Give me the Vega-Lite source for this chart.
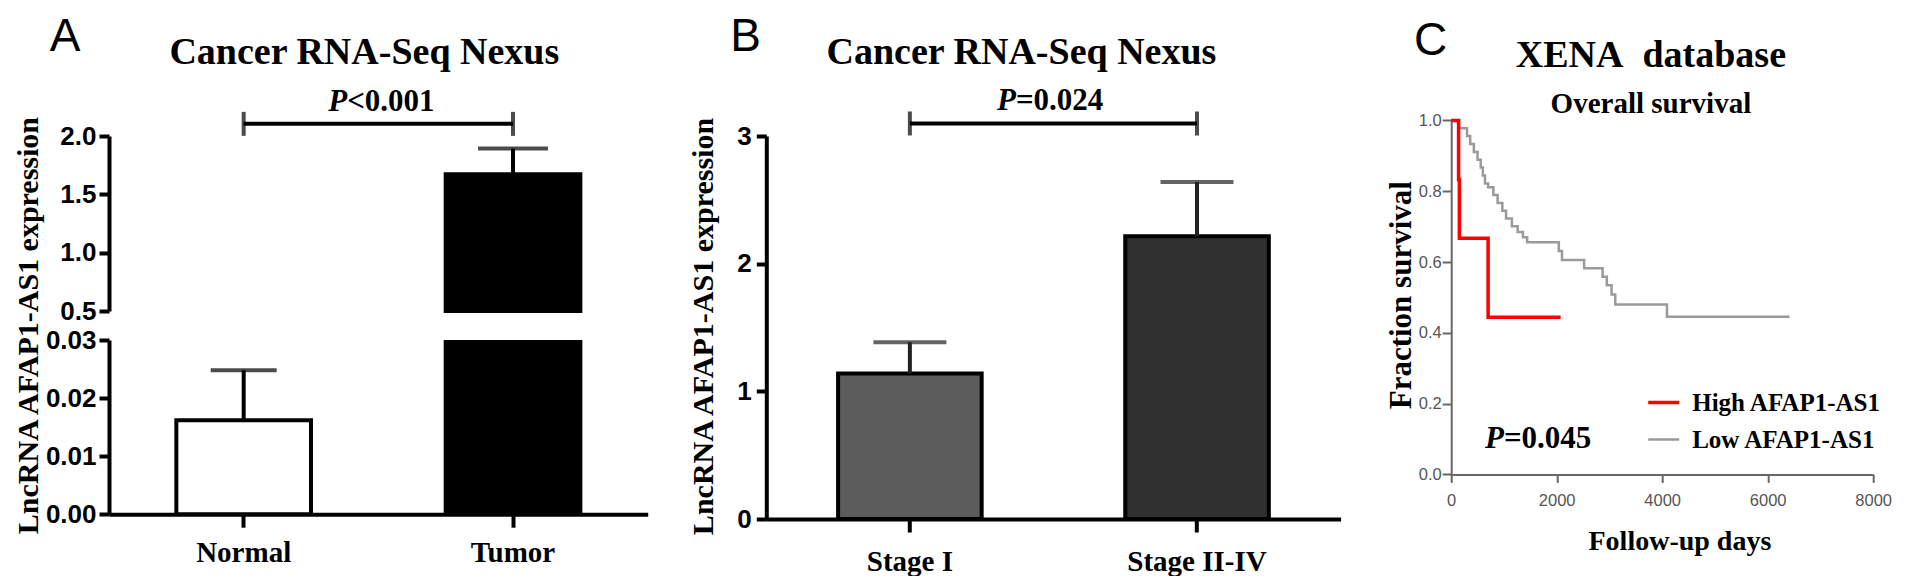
{
  "$schema": "https://vega.github.io/schema/vega-lite/v6.json",
  "background": "white",
  "padding": {"left": 13, "top": 14, "right": 0, "bottom": 0},
  "config": {"view": {"stroke": null}, "axis": {"grid": false}},
  "datasets": {
    "a": [
      {"cat": "Normal", "value": 0.0162, "upper": 0.0248},
      {"cat": "Tumor", "value": 1.672, "upper": 1.892}
    ],
    "b": [
      {"cat": "Stage I", "value": 1.14, "upper": 1.385},
      {"cat": "Stage II-IV", "value": 2.215, "upper": 2.64}
    ],
    "km": [
      {"group": "Low AFAP1-AS1", "day": 0, "surv": 1.0},
      {"group": "Low AFAP1-AS1", "day": 150, "surv": 0.978},
      {"group": "Low AFAP1-AS1", "day": 300, "surv": 0.956},
      {"group": "Low AFAP1-AS1", "day": 360, "surv": 0.933},
      {"group": "Low AFAP1-AS1", "day": 430, "surv": 0.911},
      {"group": "Low AFAP1-AS1", "day": 500, "surv": 0.889},
      {"group": "Low AFAP1-AS1", "day": 560, "surv": 0.867},
      {"group": "Low AFAP1-AS1", "day": 600, "surv": 0.844},
      {"group": "Low AFAP1-AS1", "day": 640, "surv": 0.822},
      {"group": "Low AFAP1-AS1", "day": 700, "surv": 0.811},
      {"group": "Low AFAP1-AS1", "day": 800, "surv": 0.789},
      {"group": "Low AFAP1-AS1", "day": 880, "surv": 0.767},
      {"group": "Low AFAP1-AS1", "day": 970, "surv": 0.745},
      {"group": "Low AFAP1-AS1", "day": 1040, "surv": 0.723},
      {"group": "Low AFAP1-AS1", "day": 1150, "surv": 0.701},
      {"group": "Low AFAP1-AS1", "day": 1260, "surv": 0.685},
      {"group": "Low AFAP1-AS1", "day": 1360, "surv": 0.670},
      {"group": "Low AFAP1-AS1", "day": 1440, "surv": 0.656},
      {"group": "Low AFAP1-AS1", "day": 2040, "surv": 0.631},
      {"group": "Low AFAP1-AS1", "day": 2100, "surv": 0.606},
      {"group": "Low AFAP1-AS1", "day": 2520, "surv": 0.582},
      {"group": "Low AFAP1-AS1", "day": 2870, "surv": 0.558},
      {"group": "Low AFAP1-AS1", "day": 2950, "surv": 0.534},
      {"group": "Low AFAP1-AS1", "day": 3040, "surv": 0.508},
      {"group": "Low AFAP1-AS1", "day": 3110, "surv": 0.480},
      {"group": "Low AFAP1-AS1", "day": 4090, "surv": 0.445},
      {"group": "Low AFAP1-AS1", "day": 6414, "surv": 0.445},
      {"group": "High AFAP1-AS1", "day": 0, "surv": 1.0},
      {"group": "High AFAP1-AS1", "day": 140, "surv": 0.833},
      {"group": "High AFAP1-AS1", "day": 155, "surv": 0.667},
      {"group": "High AFAP1-AS1", "day": 700, "surv": 0.444},
      {"group": "High AFAP1-AS1", "day": 2074, "surv": 0.444}
    ]
  },
  "spacing": 40.3,
  "resolve": {"scale": {"fill": "independent", "color": "independent", "strokeWidth": "independent"}, "legend": {"fill": "independent", "color": "independent", "strokeWidth": "independent"}},
  "hconcat": [
    {
      "title": {"text": "A", "anchor": "start", "frame": "group", "dx": -59.3, "offset": -27, "font": "Liberation Sans", "fontSize": 46, "fontWeight": "normal", "color": "black"},
      "bounds": "flush",
      "spacing": 29,
      "vconcat": [
        {
          "width": 538.7,
          "height": 175,
          "title": {"text": "Cancer RNA-Seq Nexus", "anchor": "middle", "frame": "group", "dx": -14, "offset": 13.5, "font": "Liberation Serif", "fontSize": 38, "fontWeight": "bold", "color": "black"},
          "layer": [
            {
              "data": {"name": "a"},
              "transform": [{"filter": "datum.value > 0.5"}],
              "mark": {"type": "bar", "fill": "black", "stroke": "black", "strokeWidth": 4},
              "encoding": {
                "x": {"field": "cat", "type": "nominal", "scale": {"domain": ["Normal", "Tumor"], "paddingInner": 0.5, "paddingOuter": 0.25}, "axis": null},
                "y": {"field": "value", "type": "quantitative", "scale": {"domain": [0.5, 2], "nice": false, "zero": false},
                  "axis": {"values": [0.5, 1, 1.5, 2], "format": ".1f", "domainColor": "black", "domainWidth": 4, "tickColor": "black", "tickWidth": 4, "tickSize": 10, "labelFont": "Liberation Sans", "labelFontSize": 26, "labelFontWeight": "bold", "labelColor": "black", "labelPadding": 3, "labelFlush": false, "labelOverlap": false, "grid": false, "title": null}},
                "y2": {"datum": 0.5}
              }
            },
            {
              "data": {"name": "a"},
              "transform": [{"filter": "datum.value > 0.5"}],
              "mark": {"type": "rule", "strokeWidth": 4, "color": "black"},
              "encoding": {
                "x": {"field": "cat", "type": "nominal", "scale": {"domain": ["Normal", "Tumor"], "paddingInner": 0.5, "paddingOuter": 0.25}, "axis": null},
                "y": {"field": "value", "type": "quantitative", "scale": {"domain": [0.5, 2], "nice": false, "zero": false}},
                "y2": {"field": "upper"}
              }
            },
            {
              "data": {"name": "a"},
              "transform": [{"filter": "datum.value > 0.5"}],
              "mark": {"type": "tick", "thickness": 4, "size": 70, "color": "black"},
              "encoding": {
                "x": {"field": "cat", "type": "nominal", "scale": {"domain": ["Normal", "Tumor"], "paddingInner": 0.5, "paddingOuter": 0.25}, "axis": null},
                "y": {"field": "upper", "type": "quantitative", "scale": {"domain": [0.5, 2], "nice": false, "zero": false}}
              }
            },
            {
              "data": {"values": [{"from": "Normal", "to": "Tumor", "y": 2.104}]},
              "mark": {"type": "rule", "strokeWidth": 4, "color": "black"},
              "encoding": {
                "x": {"field": "from", "type": "nominal", "scale": {"domain": ["Normal", "Tumor"], "paddingInner": 0.5, "paddingOuter": 0.25}, "axis": null},
                "x2": {"field": "to"},
                "y": {"field": "y", "type": "quantitative", "scale": {"domain": [0.5, 2], "nice": false, "zero": false}}
              }
            },
            {
              "data": {"values": [{"cat": "Normal", "y": 2.104}, {"cat": "Tumor", "y": 2.104}]},
              "mark": {"type": "tick", "orient": "vertical", "size": 24, "thickness": 4, "color": "black"},
              "encoding": {
                "x": {"field": "cat", "type": "nominal", "scale": {"domain": ["Normal", "Tumor"], "paddingInner": 0.5, "paddingOuter": 0.25}, "axis": null},
                "y": {"field": "y", "type": "quantitative", "scale": {"domain": [0.5, 2], "nice": false, "zero": false}}
              }
            },
            {
              "data": {"values": [{"cat": "Normal", "y": 2.217, "t": "P"}]},
              "mark": {"type": "text", "font": "Liberation Serif", "fontSize": 31, "fontWeight": "bold", "fontStyle": "italic", "align": "right", "baseline": "alphabetic", "dx": 103.5, "color": "black"},
              "encoding": {
                "x": {"field": "cat", "type": "nominal", "scale": {"domain": ["Normal", "Tumor"], "paddingInner": 0.5, "paddingOuter": 0.25}, "axis": null},
                "y": {"field": "y", "type": "quantitative", "scale": {"domain": [0.5, 2], "nice": false, "zero": false}},
                "text": {"field": "t"}
              }
            },
            {
              "data": {"values": [{"cat": "Normal", "y": 2.217, "t": "<0.001"}]},
              "mark": {"type": "text", "font": "Liberation Serif", "fontSize": 31, "fontWeight": "bold", "align": "left", "baseline": "alphabetic", "dx": 103.5, "color": "black"},
              "encoding": {
                "x": {"field": "cat", "type": "nominal", "scale": {"domain": ["Normal", "Tumor"], "paddingInner": 0.5, "paddingOuter": 0.25}, "axis": null},
                "y": {"field": "y", "type": "quantitative", "scale": {"domain": [0.5, 2], "nice": false, "zero": false}},
                "text": {"field": "t"}
              }
            }
          ]
        },
        {
          "width": 538.7,
          "height": 174.2,
          "layer": [
            {
              "data": {"name": "a"},
              "mark": {"type": "bar", "stroke": "black", "strokeWidth": 4, "clip": true},
              "encoding": {
                "x": {"field": "cat", "type": "nominal", "scale": {"domain": ["Normal", "Tumor"], "paddingInner": 0.5, "paddingOuter": 0.25},
                  "axis": {"domainColor": "black", "domainWidth": 4, "tickColor": "black", "tickWidth": 4, "tickSize": 13, "labelFont": "Liberation Serif", "labelFontSize": 29, "labelFontWeight": "bold", "labelColor": "black", "labelAngle": 0, "labelBaseline": "alphabetic", "labelPadding": 34, "title": null}},
                "y": {"field": "value", "type": "quantitative", "scale": {"domain": [0, 0.03], "nice": false},
                  "axis": {"values": [0, 0.01, 0.02, 0.03], "format": ".2f", "domainColor": "black", "domainWidth": 4, "tickColor": "black", "tickWidth": 4, "tickSize": 10, "labelFont": "Liberation Sans", "labelFontSize": 26, "labelFontWeight": "bold", "labelColor": "black", "labelPadding": 3, "labelFlush": false, "labelOverlap": false, "grid": false,
                    "title": "LncRNA AFAP1-AS1 expression", "titleFont": "Liberation Serif", "titleFontSize": 30, "titleFontWeight": "bold", "titleColor": "black", "titleX": -71.6, "titleY": -14.9, "titleBaseline": "alphabetic", "titleAngle": 270, "titleAlign": "center"}},
                "fill": {"field": "cat", "type": "nominal", "scale": {"domain": ["Normal", "Tumor"], "range": ["#ffffff", "#000000"]}, "legend": null}
              }
            },
            {
              "data": {"name": "a"},
              "transform": [{"filter": "datum.upper < 0.03"}],
              "mark": {"type": "rule", "strokeWidth": 4, "color": "black"},
              "encoding": {
                "x": {"field": "cat", "type": "nominal", "scale": {"domain": ["Normal", "Tumor"], "paddingInner": 0.5, "paddingOuter": 0.25}},
                "y": {"field": "value", "type": "quantitative", "scale": {"domain": [0, 0.03], "nice": false}},
                "y2": {"field": "upper"}
              }
            },
            {
              "data": {"name": "a"},
              "transform": [{"filter": "datum.upper < 0.03"}],
              "mark": {"type": "tick", "thickness": 4, "size": 66, "color": "black"},
              "encoding": {
                "x": {"field": "cat", "type": "nominal", "scale": {"domain": ["Normal", "Tumor"], "paddingInner": 0.5, "paddingOuter": 0.25}},
                "y": {"field": "upper", "type": "quantitative", "scale": {"domain": [0, 0.03], "nice": false}}
              }
            }
          ]
        }
      ]
    },
    {
      "spacing": 43.9,
      "resolve": {"scale": {"fill": "independent", "color": "independent", "strokeWidth": "independent"}, "legend": {"fill": "independent", "color": "independent", "strokeWidth": "independent"}},
      "hconcat": [
        {
          "title": {"text": "B", "anchor": "start", "frame": "group", "dx": -36.1, "offset": -27, "font": "Liberation Sans", "fontSize": 46, "fontWeight": "normal", "color": "black"},
          "vconcat": [
            {
              "width": 574.3,
              "height": 383,
              "title": {"text": "Cancer RNA-Seq Nexus", "anchor": "middle", "frame": "group", "dx": -32, "offset": 13, "font": "Liberation Serif", "fontSize": 38, "fontWeight": "bold", "color": "black"},
              "layer": [
                {
                  "data": {"name": "b"},
                  "mark": {"type": "bar", "stroke": "black", "strokeWidth": 4},
                  "encoding": {
                    "x": {"field": "cat", "type": "nominal", "scale": {"domain": ["Stage I", "Stage II-IV"], "paddingInner": 0.5, "paddingOuter": 0.25},
                      "axis": {"domainColor": "black", "domainWidth": 4, "tickColor": "black", "tickWidth": 4, "tickSize": 13, "labelFont": "Liberation Serif", "labelFontSize": 29, "labelFontWeight": "bold", "labelColor": "black", "labelAngle": 0, "labelBaseline": "alphabetic", "labelPadding": 38, "title": null}},
                    "y": {"field": "value", "type": "quantitative", "scale": {"domain": [0, 3], "nice": false},
                      "axis": {"values": [0, 1, 2, 3], "format": "d", "domainColor": "black", "domainWidth": 4, "tickColor": "black", "tickWidth": 4, "tickSize": 10, "labelFont": "Liberation Sans", "labelFontSize": 26, "labelFontWeight": "bold", "labelColor": "black", "labelPadding": 5, "labelFlush": false, "labelOverlap": false, "grid": false,
                        "title": "LncRNA AFAP1-AS1 expression", "titleFont": "Liberation Serif", "titleFontSize": 30, "titleFontWeight": "bold", "titleColor": "black", "titleX": -53.4, "titleY": 190, "titleBaseline": "alphabetic", "titleAngle": 270, "titleAlign": "center"}},
                    "fill": {"field": "cat", "type": "nominal", "scale": {"domain": ["Stage I", "Stage II-IV"], "range": ["#5c5c5c", "#303030"]}, "legend": null}
                  }
                },
                {
                  "data": {"name": "b"},
                  "mark": {"type": "rule", "strokeWidth": 4, "color": "#222222"},
                  "encoding": {
                    "x": {"field": "cat", "type": "nominal", "scale": {"domain": ["Stage I", "Stage II-IV"], "paddingInner": 0.5, "paddingOuter": 0.25}},
                    "y": {"field": "value", "type": "quantitative", "scale": {"domain": [0, 3], "nice": false}},
                    "y2": {"field": "upper"}
                  }
                },
                {
                  "data": {"name": "b"},
                  "mark": {"type": "tick", "thickness": 4, "size": 73, "color": "#222222"},
                  "encoding": {
                    "x": {"field": "cat", "type": "nominal", "scale": {"domain": ["Stage I", "Stage II-IV"], "paddingInner": 0.5, "paddingOuter": 0.25}},
                    "y": {"field": "upper", "type": "quantitative", "scale": {"domain": [0, 3], "nice": false}}
                  }
                },
                {
                  "data": {"values": [{"from": "Stage I", "to": "Stage II-IV", "y": 3.098}]},
                  "mark": {"type": "rule", "strokeWidth": 4, "color": "black"},
                  "encoding": {
                    "x": {"field": "from", "type": "nominal", "scale": {"domain": ["Stage I", "Stage II-IV"], "paddingInner": 0.5, "paddingOuter": 0.25}},
                    "x2": {"field": "to"},
                    "y": {"field": "y", "type": "quantitative", "scale": {"domain": [0, 3], "nice": false}}
                  }
                },
                {
                  "data": {"values": [{"cat": "Stage I", "y": 3.098}, {"cat": "Stage II-IV", "y": 3.098}]},
                  "mark": {"type": "tick", "orient": "vertical", "size": 24, "thickness": 4, "color": "black"},
                  "encoding": {
                    "x": {"field": "cat", "type": "nominal", "scale": {"domain": ["Stage I", "Stage II-IV"], "paddingInner": 0.5, "paddingOuter": 0.25}},
                    "y": {"field": "y", "type": "quantitative", "scale": {"domain": [0, 3], "nice": false}}
                  }
                },
                {
                  "data": {"values": [{"cat": "Stage I", "y": 3.2, "t": "P"}]},
                  "mark": {"type": "text", "font": "Liberation Serif", "fontSize": 31, "fontWeight": "bold", "fontStyle": "italic", "align": "right", "baseline": "alphabetic", "dx": 106, "color": "black"},
                  "encoding": {
                    "x": {"field": "cat", "type": "nominal", "scale": {"domain": ["Stage I", "Stage II-IV"], "paddingInner": 0.5, "paddingOuter": 0.25}},
                    "y": {"field": "y", "type": "quantitative", "scale": {"domain": [0, 3], "nice": false}},
                    "text": {"field": "t"}
                  }
                },
                {
                  "data": {"values": [{"cat": "Stage I", "y": 3.2, "t": "=0.024"}]},
                  "mark": {"type": "text", "font": "Liberation Serif", "fontSize": 31, "fontWeight": "bold", "align": "left", "baseline": "alphabetic", "dx": 106, "color": "black"},
                  "encoding": {
                    "x": {"field": "cat", "type": "nominal", "scale": {"domain": ["Stage I", "Stage II-IV"], "paddingInner": 0.5, "paddingOuter": 0.25}},
                    "y": {"field": "y", "type": "quantitative", "scale": {"domain": [0, 3], "nice": false}},
                    "text": {"field": "t"}
                  }
                }
              ]
            }
          ]
        },
        {
          "title": {"text": "C", "anchor": "start", "frame": "group", "dx": -37.3, "offset": -27.4, "font": "Liberation Sans", "fontSize": 46, "fontWeight": "normal", "color": "black"},
          "resolve": {"scale": {"color": "independent", "strokeWidth": "independent"}, "legend": {"color": "independent", "strokeWidth": "independent"}},
          "vconcat": [
            {
              "width": 422,
              "height": 338.4,
              "title": {"text": "XENA\u00a0 database", "subtitle": "Overall survival", "anchor": "middle", "frame": "group", "dx": -11.3, "offset": -6.9, "subtitlePadding": 15, "font": "Liberation Serif", "fontSize": 38, "fontWeight": "bold", "color": "black", "subtitleFont": "Liberation Serif", "subtitleFontSize": 29, "subtitleFontWeight": "bold", "subtitleColor": "black"},
              "layer": [
                {
                  "data": {"name": "km"},
                  "mark": {"type": "line", "interpolate": "step-after"},
                  "encoding": {
                    "x": {"field": "day", "type": "quantitative", "scale": {"domain": [0, 8000], "nice": false},
                      "axis": {"values": [0, 2000, 4000, 6000, 8000], "format": "d", "domainColor": "#666666", "domainWidth": 2, "tickColor": "#666666", "tickWidth": 2, "tickSize": 8, "labelFont": "Liberation Sans", "labelFontSize": 16.5, "labelColor": "#555555", "labelBaseline": "alphabetic", "labelPadding": 23, "labelFlush": false, "labelOverlap": false, "grid": false,
                        "title": "Follow-up days", "titleFont": "Liberation Serif", "titleFontSize": 28, "titleFontWeight": "bold", "titleColor": "black", "titleX": 228.2, "titleY": 75, "titleBaseline": "alphabetic", "titleAlign": "center"}},
                    "y": {"field": "surv", "type": "quantitative", "scale": {"domain": [0, 1], "range": [338.4, -15.6], "nice": false},
                      "axis": {"values": [0, 0.2, 0.4, 0.6, 0.8, 1], "format": ".1f", "domainColor": "#666666", "domainWidth": 2, "tickColor": "#666666", "tickWidth": 2, "tickSize": 9, "labelFont": "Liberation Sans", "labelFontSize": 16.5, "labelColor": "#555555", "labelPadding": 1, "labelFlush": false, "labelOverlap": false, "grid": false,
                        "title": "Fraction survival", "titleFont": "Liberation Serif", "titleFontSize": 31, "titleFontWeight": "bold", "titleColor": "black", "titleX": -40.6, "titleY": 158.7, "titleBaseline": "alphabetic", "titleAngle": 270, "titleAlign": "center"}},
                    "color": {"field": "group", "type": "nominal", "scale": {"domain": ["High AFAP1-AS1", "Low AFAP1-AS1"], "range": ["#ff0000", "#9a9a9a"]},
                      "legend": {"orient": "none", "legendX": 195, "legendY": 249, "title": null, "symbolType": "stroke", "symbolSize": 961, "symbolStrokeWidth": 3, "labelFont": "Liberation Serif", "labelFontSize": 25, "labelFontWeight": "bold", "labelColor": "black", "labelOffset": 11, "labelLimit": 400, "rowPadding": 6.5, "padding": 0}},
                    "strokeWidth": {"field": "group", "type": "nominal", "scale": {"domain": ["High AFAP1-AS1", "Low AFAP1-AS1"], "range": [3.5, 2.5]}, "legend": null}
                  }
                },
                {
                  "data": {"values": [{"day": 1000, "surv": 0.0754, "t": "P"}]},
                  "mark": {"type": "text", "font": "Liberation Serif", "fontSize": 31, "fontWeight": "bold", "fontStyle": "italic", "align": "right", "baseline": "alphabetic", "color": "black"},
                  "encoding": {
                    "x": {"field": "day", "type": "quantitative", "scale": {"domain": [0, 8000], "nice": false}},
                    "y": {"field": "surv", "type": "quantitative", "scale": {"domain": [0, 1], "range": [338.4, -15.6], "nice": false}},
                    "text": {"field": "t"}
                  }
                },
                {
                  "data": {"values": [{"day": 1000, "surv": 0.0754, "t": "=0.045"}]},
                  "mark": {"type": "text", "font": "Liberation Serif", "fontSize": 31, "fontWeight": "bold", "align": "left", "baseline": "alphabetic", "color": "black"},
                  "encoding": {
                    "x": {"field": "day", "type": "quantitative", "scale": {"domain": [0, 8000], "nice": false}},
                    "y": {"field": "surv", "type": "quantitative", "scale": {"domain": [0, 1], "range": [338.4, -15.6], "nice": false}},
                    "text": {"field": "t"}
                  }
                }
              ]
            }
          ]
        }
      ]
    }
  ]
}
